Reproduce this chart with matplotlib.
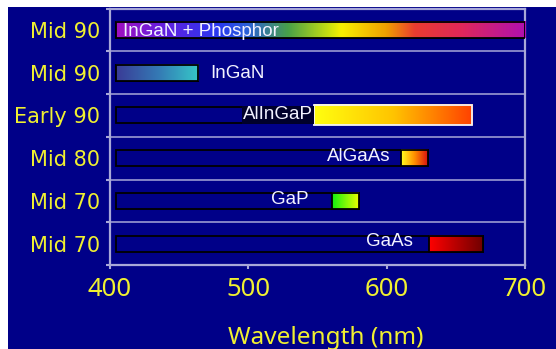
import numpy as np
import matplotlib
matplotlib.use("Agg")
import matplotlib.pyplot as plt
from matplotlib.colors import LinearSegmentedColormap
from matplotlib.patches import Rectangle

# LED material generations and their emission bands (nm)
eras = ["Mid 90", "Mid 90", "Early 90", "Mid 80", "Mid 70", "Mid 70"]
materials = ["InGaN + Phosphor", "InGaN", "AlInGaP", "AlGaAs", "GaP", "GaAs"]
band_start = [404, 404, 547.5, 610.5, 560.5, 630.5]
band_end = [700, 463.5, 662, 630, 580, 669.5]
bar_origin = 404
wavelength_ticks = [400, 500, 600, 700]

# colour ramps across each band (position along band, colour)
ramps = [
    [(0.0, "#a010c0"), (0.12, "#6020e0"), (0.25, "#2838f0"), (0.32, "#2a60d8"),
     (0.42, "#48a048"), (0.52, "#c8e010"), (0.55, "#f8f000"), (0.66, "#f0a000"),
     (0.73, "#e83c30"), (0.84, "#e02858"), (1.0, "#b010b0")],
    [(0.0, "#3a3a96"), (0.5, "#3478b4"), (1.0, "#36c8c8")],
    [(0.0, "#ffff10"), (0.5, "#ffc400"), (1.0, "#ff4000")],
    [(0.0, "#ffff20"), (0.5, "#ff9000"), (1.0, "#d81010")],
    [(0.0, "#10f010"), (1.0, "#eaff00")],
    [(0.0, "#ff0000"), (1.0, "#700000")],
]

navy = "#000088"
frame = "#a8a8d8"
yellow = "#f0f030"

fig = plt.figure(figsize=(5.56, 3.49), dpi=100)
fig.patch.set_facecolor("white")
fig.add_artist(Rectangle((8 / 556, 0), 1, 1 - 7 / 349, transform=fig.transFigure,
                         facecolor=navy, edgecolor="none", zorder=-10))

ax = fig.add_axes([110 / 556, 1 - 265 / 349, 415 / 556, (265 - 8.5) / 349])
ax.set_facecolor(navy)

bar_h = 0.375
for i, (name, s, e, stops) in enumerate(zip(materials, band_start, band_end, ramps)):
    yc = i + 0.5
    # dark track from the origin to the end of the band
    ax.add_patch(Rectangle((bar_origin, yc - bar_h / 2), e - bar_origin, bar_h,
                           facecolor=navy, edgecolor="black", lw=1.3, zorder=2))
    cmap = LinearSegmentedColormap.from_list(f"ramp{i}", stops)
    h = 0.47 if name == "AlInGaP" else bar_h
    ax.imshow(np.linspace(0, 1, 256)[None, :], cmap=cmap, aspect="auto",
              extent=(s, e, yc + h / 2, yc - h / 2), interpolation="bilinear", zorder=3)
    edge = "#f4f4f4" if name == "AlInGaP" else "black"
    ax.add_patch(Rectangle((s, yc - h / 2), e - s, h, facecolor="none",
                           edgecolor=edge, lw=1.3, zorder=4))

# band labels
label_font = dict(family="Liberation Sans", fontsize=13.5, color="#f2f2ff", zorder=5)
ax.text(409.4, 0.5 + 0.03, materials[0], ha="left", va="center", **label_font)
ax.text(472.3, 1.5 + 0.03, materials[1], ha="left", va="center", **label_font)
ax.text(546.8, 2.5 - 0.01, materials[2], ha="right", va="center",
        bbox=dict(boxstyle="square,pad=0.05", facecolor="#00002a", edgecolor="none"),
        **label_font)
ax.text(602.4, 3.5 - 0.04, materials[3], ha="right", va="center", **label_font)
ax.text(543.9, 4.5 - 0.03, materials[4], ha="right", va="center", **label_font)
ax.text(619.0, 5.5 - 0.05, materials[5], ha="right", va="center", **label_font)

# row separators
for y in range(1, 6):
    ax.axhline(y, color=frame, lw=1.1, zorder=1)

ax.set_xlim(400, 700)
ax.set_ylim(6, 0)

ax.set_yticks(np.arange(6) + 0.5)
ax.set_yticklabels(eras, family="DejaVu Sans", fontsize=15, color=yellow)
ax.set_yticks(np.arange(7), minor=True)
ax.tick_params(axis="y", which="major", length=0, pad=7)
ax.tick_params(axis="y", which="minor", length=3, width=1.5, color=frame)

ax.set_xticks(wavelength_ticks)
ax.set_xticklabels([str(t) for t in wavelength_ticks], family="Noto Sans",
                   fontsize=18.5, color=yellow)
ax.tick_params(axis="x", length=3, width=1.5, color=frame, pad=6)

for sp in ax.spines.values():
    sp.set_color(frame)
    sp.set_linewidth(1.6)

fig.text(326 / 556, 1 - 344 / 349, "Wavelength (nm)", ha="center", va="baseline",
         family="Noto Sans", fontsize=17.5, color=yellow)

fig.savefig("out.png", dpi=100, facecolor=fig.get_facecolor())
